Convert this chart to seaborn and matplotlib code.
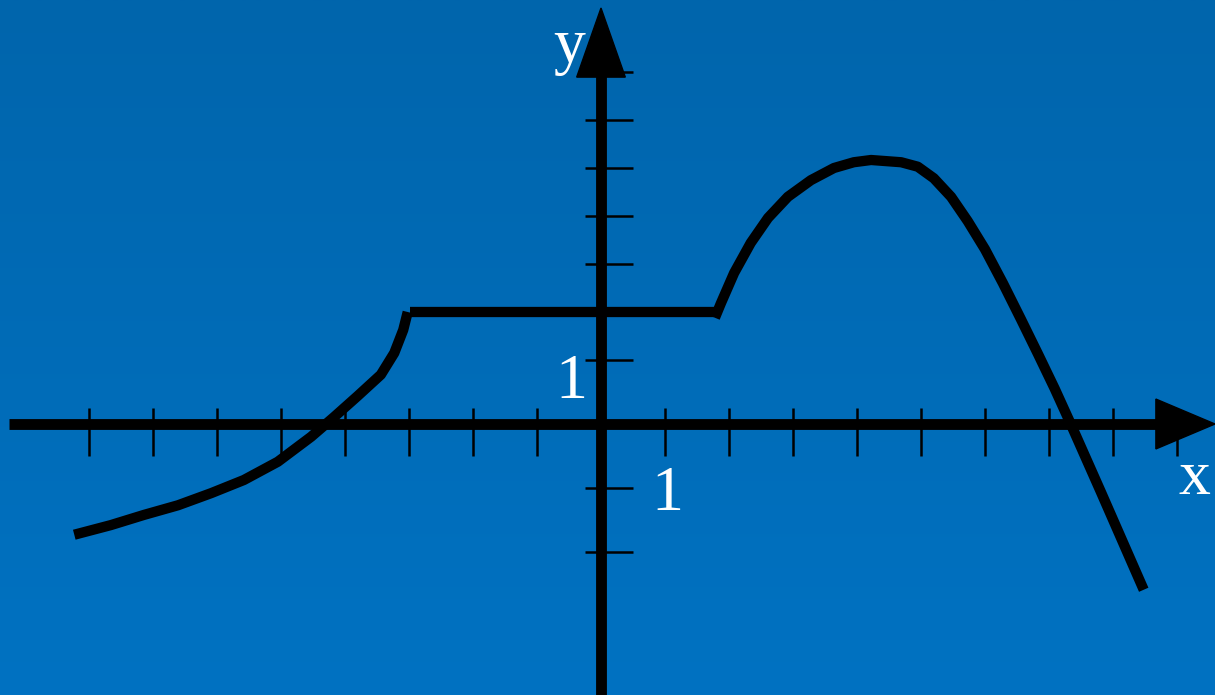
import numpy as np
import pandas as pd
import matplotlib
matplotlib.use("Agg")
import matplotlib.pyplot as plt
import seaborn as sns

# ---- data (1 unit = one tick spacing on x) ----
left_x = [-8.23, -7.66, -7.14, -6.61, -6.09, -5.58, -5.05, -4.53, -4.17, -3.80,
          -3.44, -3.23, -3.09, -3.02]
left_y = [-1.73, -1.58, -1.42, -1.27, -1.08, -0.875, -0.59, -0.20, 0.11, 0.44,
          0.77, 1.11, 1.47, 1.75]

flat_x = [-2.98, 1.77]
flat_y = [1.75, 1.75]

right_x = [1.78, 1.875, 2.08, 2.34, 2.61, 2.92, 3.28, 3.64, 3.95, 4.22, 4.69, 4.95, 5.20,
           5.47, 5.73, 6.00, 6.28, 6.56, 6.83, 7.09, 7.34, 7.81, 8.48]
right_y = [1.66, 1.89, 2.36, 2.83, 3.22, 3.55, 3.81, 4.00, 4.09, 4.125, 4.09, 4.02, 3.84,
           3.55, 3.17, 2.73, 2.20, 1.64, 1.09, 0.55, 0.00, -1.06, -2.59]

x_ticks = [-8, -7, -6, -5, -4, -3, -2, -1, 1, 2, 3, 4, 5, 6, 7, 8, 9]
y_ticks = [5.5, 4.75, 4.0, 3.25, 2.5, 1.75, 1.0, -1.0, -2.0]
unit_label = "1"
x_name = "x"
y_name = "y"

# ---- figure ----
sns.set_style("white")
plt.rcParams['font.family'] = ['Liberation Serif', 'DejaVu Serif']

fig = plt.figure(figsize=(12.15, 6.95), dpi=100)
ax = fig.add_axes([0, 0, 1, 1])
XMIN, XMAX = -601 / 64, 614 / 64
YMIN, YMAX = -271 / 64, 424 / 64

# background gradient
grad = np.linspace(0, 1, 256)[:, None, None]
top = np.array([0, 101, 172]) / 255
bot = np.array([0, 114, 194]) / 255
img = top[None, None, :] * (1 - grad) + bot[None, None, :] * grad
ax.imshow(img, extent=[XMIN, XMAX, YMIN, YMAX], origin='upper', aspect='auto', zorder=0)

# axes lines and arrowheads
AX_LW = 7.8
ax.plot([-9.25, 8.70], [0, 0], color='black', lw=AX_LW, solid_capstyle='butt', zorder=3)
ax.fill([8.67, 8.67, XMAX], [0.39, -0.39, 0], color='black', zorder=4)
ax.plot([0, 0], [YMIN - 1, 5.45], color='black', lw=AX_LW, solid_capstyle='butt', zorder=3)
ax.fill([-0.38, 0.38, 0], [5.42, 5.42, 6.5], color='black', zorder=4)

# ticks
ax.vlines(x_ticks, -0.5, 0.25, colors='black', lw=1.8, zorder=3)
ax.hlines(y_ticks, -0.25, 0.5, colors='black', lw=1.8, zorder=3)

# curve segments
CURVE_LW = 7.4
segs = [(left_x, left_y), (flat_x, flat_y), (right_x, right_y)]
for sx, sy in segs:
    df = pd.DataFrame({"x": sx, "y": sy})
    sns.lineplot(data=df, x="x", y="y", ax=ax, sort=False, estimator=None,
                 color='black', lw=CURVE_LW, solid_capstyle='butt',
                 solid_joinstyle='round', zorder=5)
ax.set_xlim(XMIN, XMAX)
ax.set_ylim(YMIN, YMAX)
ax.axis('off')

# labels
FS = 46
ax.text(-0.47, 0.406, unit_label, ha='center', va='baseline', fontsize=FS, color='white', zorder=2)
ax.text(1.03, -1.34, unit_label, ha='center', va='baseline', fontsize=FS, color='white', zorder=2)
ax.text(9.28, -1.09, x_name, ha='center', va='baseline', fontsize=FS, color='white', zorder=2)
ax.text(-0.50, 5.66, y_name, ha='center', va='baseline', fontsize=FS, color='white', zorder=2)

fig.savefig("out.png", dpi=100)
